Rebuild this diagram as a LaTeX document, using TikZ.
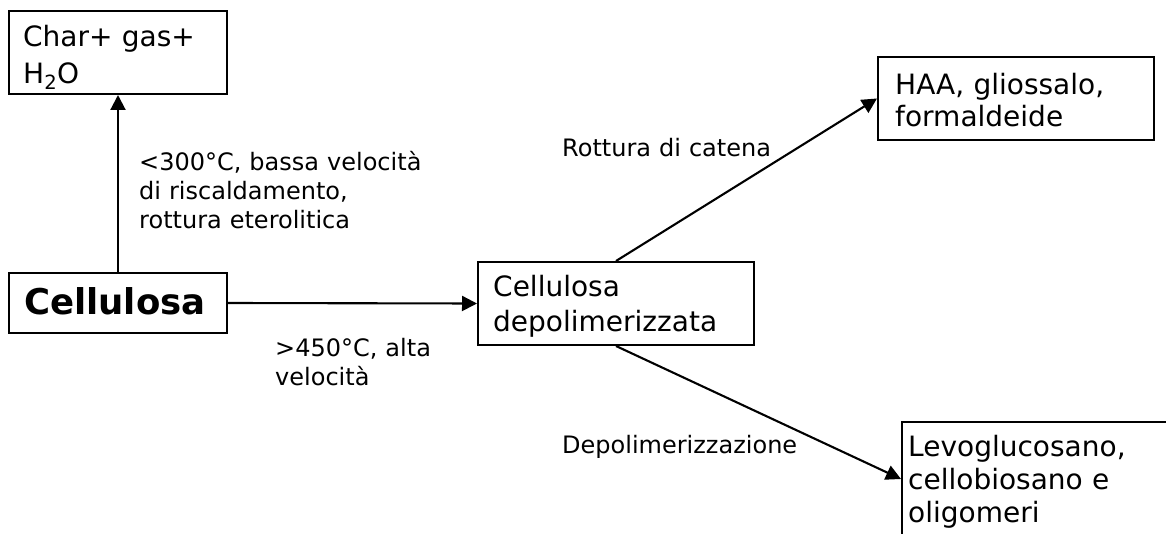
\documentclass[tikz,border=0pt]{standalone}
\usepackage{fontspec}
\setmainfont{DejaVu Sans}
\usetikzlibrary{arrows.meta}
\begin{document}
\begin{tikzpicture}[x=1pt,y=-1pt,
  box/.style={draw, line width=2pt, inner sep=0pt, anchor=north west},
  boxtext/.style={anchor=base west, inner sep=0pt, align=left, text width=#1},
  lbl/.style={anchor=base west, inner sep=0pt, align=left, text width=#1,
              font=\fontsize{24}{29}\selectfont},
  flow/.style={line width=2.1pt, -{Triangle[length=15pt,width=15pt]}}]
\useasboundingbox (0,0) rectangle (1166,534);
\clip (0,0) rectangle (1166,534);

% boxes
\node[box, minimum width=218pt, minimum height=83pt] (char) at (8,10) {};
\node[box, minimum width=218pt, minimum height=60pt] (cell) at (8,272) {};
\node[box, minimum width=276pt, minimum height=83pt] (dep) at (477,261) {};
\node[box, minimum width=276pt, minimum height=83pt] (haa) at (877,56) {};
\node[box, minimum width=280pt, minimum height=114pt] (levo) at (901,421) {};

% box contents
\node[boxtext=200pt, font=\fontsize{28}{36.5}\selectfont] (tchar) at (23,46.7)
  {Char+ gas+\\H\textsubscript{2}O};
\node[boxtext=200pt, font=\fontsize{35.5}{40}\selectfont\bfseries] (tcell) at (24,315)
  {Cellulosa};
\node[boxtext=260pt, font=\fontsize{28}{35}\selectfont] (tdep) at (493,297)
  {Cellulosa\\depolimerizzata};
\node[boxtext=260pt, font=\fontsize{28}{32}\selectfont] (thaa) at (895,95)
  {HAA, gliossalo,\\formaldeide};
\node[boxtext=260pt, font=\fontsize{28}{33}\selectfont] (tlevo) at (908,456.7)
  {Levoglucosano,\\cellobiosano e\\oligomeri};

% connectors
\draw[flow] (cell.north) -- (char.south);
\draw[flow] (cell.east) -- (dep.west);
\draw[flow] (dep.north) -- (haa.west);
\draw[flow] (dep.south) -- (levo.west);

% connector labels
\node[lbl=300pt] (l1) at (139,170.7)
  {<300°C, bassa velocità\\di riscaldamento,\\rottura eterolitica};
\node[lbl=200pt] (l2) at (275,356)
  {>450°C, alta\\velocità};
\node[lbl=260pt] (l3) at (562,157) {Rottura di catena};
\node[lbl=260pt] (l4) at (562,453) {Depolimerizzazione};
\end{tikzpicture}
\end{document}
